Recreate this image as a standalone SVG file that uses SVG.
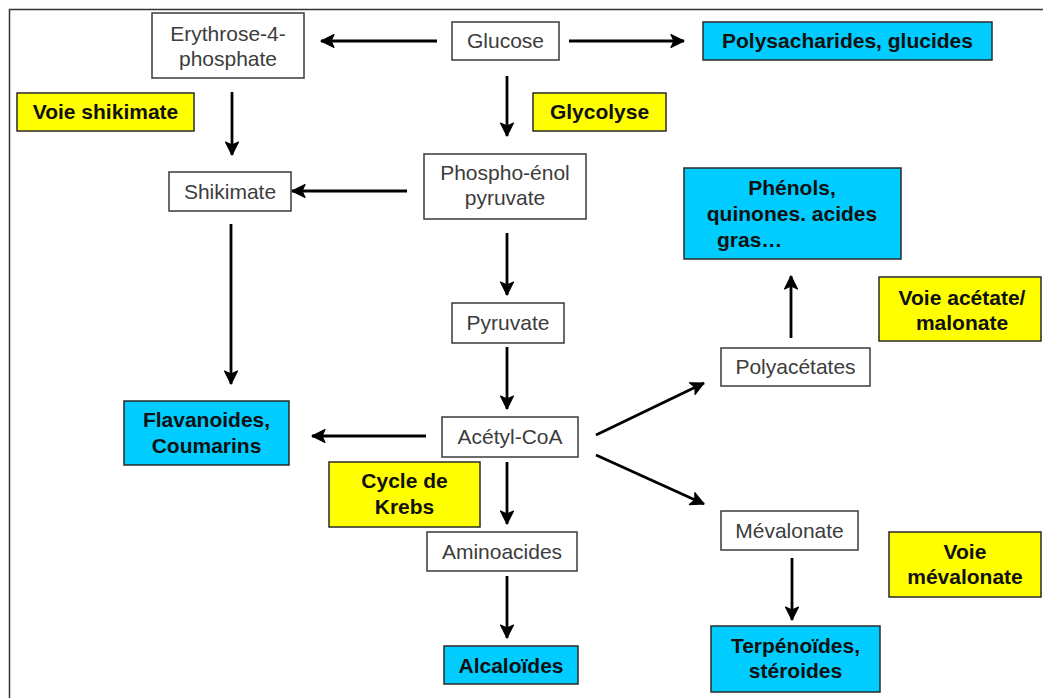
<svg xmlns="http://www.w3.org/2000/svg" width="1043" height="698" viewBox="0 0 1043 698">
<style>
.w{fill:#fff;stroke:#3a3a3a;stroke-width:1.5}
.c{fill:#00CCFF;stroke:#2a2a2a;stroke-width:1.5}
.y{fill:#FFFF00;stroke:#2a2a2a;stroke-width:1.5}
.t{font-family:"Liberation Sans",Arial,sans-serif;font-size:21px;fill:#3c3c3c;text-anchor:middle}
.b{font-family:"Liberation Sans",Arial,sans-serif;font-size:21px;font-weight:bold;fill:#111;text-anchor:middle}
.a{stroke:#000;stroke-width:2.8;fill:none;marker-end:url(#ah)}
</style>
<defs>
<marker id="ah" markerUnits="userSpaceOnUse" markerWidth="16" markerHeight="16" viewBox="0 0 16 16" refX="14" refY="8" orient="auto">
<path d="M1,1.5 L14,8 L1,14.5 L4,8 z" fill="#000" stroke="#000" stroke-width="1.2" stroke-linejoin="round"/>
</marker>
</defs>
<rect x="0" y="0" width="1043" height="698" fill="#fff"/>
<path d="M9.5,698 L9.5,9.5 L1043,9.5" fill="none" stroke="#333" stroke-width="1.5"/>

<g id="connectors">
<line class="a" x1="437" y1="41" x2="321" y2="41"/>
<line class="a" x1="569" y1="41" x2="684" y2="41"/>
<line class="a" x1="507" y1="76" x2="507" y2="136"/>
<line class="a" x1="232" y1="92" x2="232" y2="155"/>
<line class="a" x1="407" y1="191" x2="292" y2="191"/>
<line class="a" x1="231" y1="224" x2="231" y2="384"/>
<line class="a" x1="507" y1="233" x2="507" y2="295"/>
<line class="a" x1="507" y1="347" x2="507" y2="409"/>
<line class="a" x1="426" y1="436" x2="312" y2="436"/>
<line class="a" x1="507" y1="462" x2="507" y2="524"/>
<line class="a" x1="507" y1="576" x2="507" y2="638"/>
<line class="a" x1="596" y1="435" x2="704" y2="383"/>
<line class="a" x1="596" y1="455" x2="704" y2="504"/>
<line class="a" x1="791" y1="338" x2="791" y2="276"/>
<line class="a" x1="792" y1="558" x2="792" y2="620"/>
</g>

<g id="erythrose"><rect class="w" x="152" y="13" width="152" height="65"/><text class="t" x="228" y="41">Erythrose-4-</text><text class="t" x="228" y="66">phosphate</text></g>
<g id="glucose"><rect class="w" x="452" y="22" width="107" height="38"/><text class="t" x="505.5" y="48">Glucose</text></g>
<g id="polysacharides"><rect class="c" x="703" y="22" width="289" height="38"/><text class="b" x="847.5" y="48">Polysacharides, glucides</text></g>
<g id="voie-shikimate"><rect class="y" x="17" y="93" width="177" height="38"/><text class="b" x="105.5" y="119">Voie shikimate</text></g>
<g id="glycolyse"><rect class="y" x="533" y="93" width="133" height="38"/><text class="b" x="599.5" y="119">Glycolyse</text></g>
<g id="shikimate"><rect class="w" x="169" y="172" width="122" height="39"/><text class="t" x="230" y="199">Shikimate</text></g>
<g id="pep"><rect class="w" x="424" y="154" width="162" height="65"/><text class="t" x="505" y="180">Phospho-énol</text><text class="t" x="505" y="205">pyruvate</text></g>
<g id="phenols"><rect class="c" x="684" y="168" width="217" height="91"/><text class="b" x="792" y="195">Phénols,</text><text class="b" x="792" y="221">quinones. acides</text><text class="b" x="717" y="247" style="text-anchor:start">gras…</text></g>
<g id="pyruvate"><rect class="w" x="452" y="303" width="112" height="40"/><text class="t" x="508" y="330">Pyruvate</text></g>
<g id="voie-acetate"><rect class="y" x="879" y="277" width="162" height="64"/><text class="b" x="962" y="305">Voie acétate/</text><text class="b" x="962" y="330">malonate</text></g>
<g id="polyacetates"><rect class="w" x="721" y="348" width="149" height="38"/><text class="t" x="795.5" y="374">Polyacétates</text></g>
<g id="flavanoides"><rect class="c" x="124" y="401" width="165" height="64"/><text class="b" x="206.5" y="427">Flavanoides,</text><text class="b" x="206.5" y="453">Coumarins</text></g>
<g id="acetyl-coa"><rect class="w" x="442" y="417" width="136" height="40"/><text class="t" x="510" y="444">Acétyl-CoA</text></g>
<g id="krebs"><rect class="y" x="329" y="462" width="151" height="65"/><text class="b" x="404.5" y="488">Cycle de</text><text class="b" x="404.5" y="514">Krebs</text></g>
<g id="aminoacides"><rect class="w" x="427" y="532" width="150" height="39"/><text class="t" x="502" y="559">Aminoacides</text></g>
<g id="alcaloides"><rect class="c" x="444" y="646" width="134" height="38"/><text class="b" x="511" y="673">Alcaloïdes</text></g>
<g id="mevalonate"><rect class="w" x="721" y="511" width="137" height="39"/><text class="t" x="789.5" y="538">Mévalonate</text></g>
<g id="voie-mevalonate"><rect class="y" x="889" y="532" width="152" height="65"/><text class="b" x="965" y="559">Voie</text><text class="b" x="965" y="584">mévalonate</text></g>
<g id="terpenoides"><rect class="c" x="711" y="626" width="169" height="66"/><text class="b" x="795.5" y="653">Terpénoïdes,</text><text class="b" x="795.5" y="678">stéroides</text></g>
</svg>
